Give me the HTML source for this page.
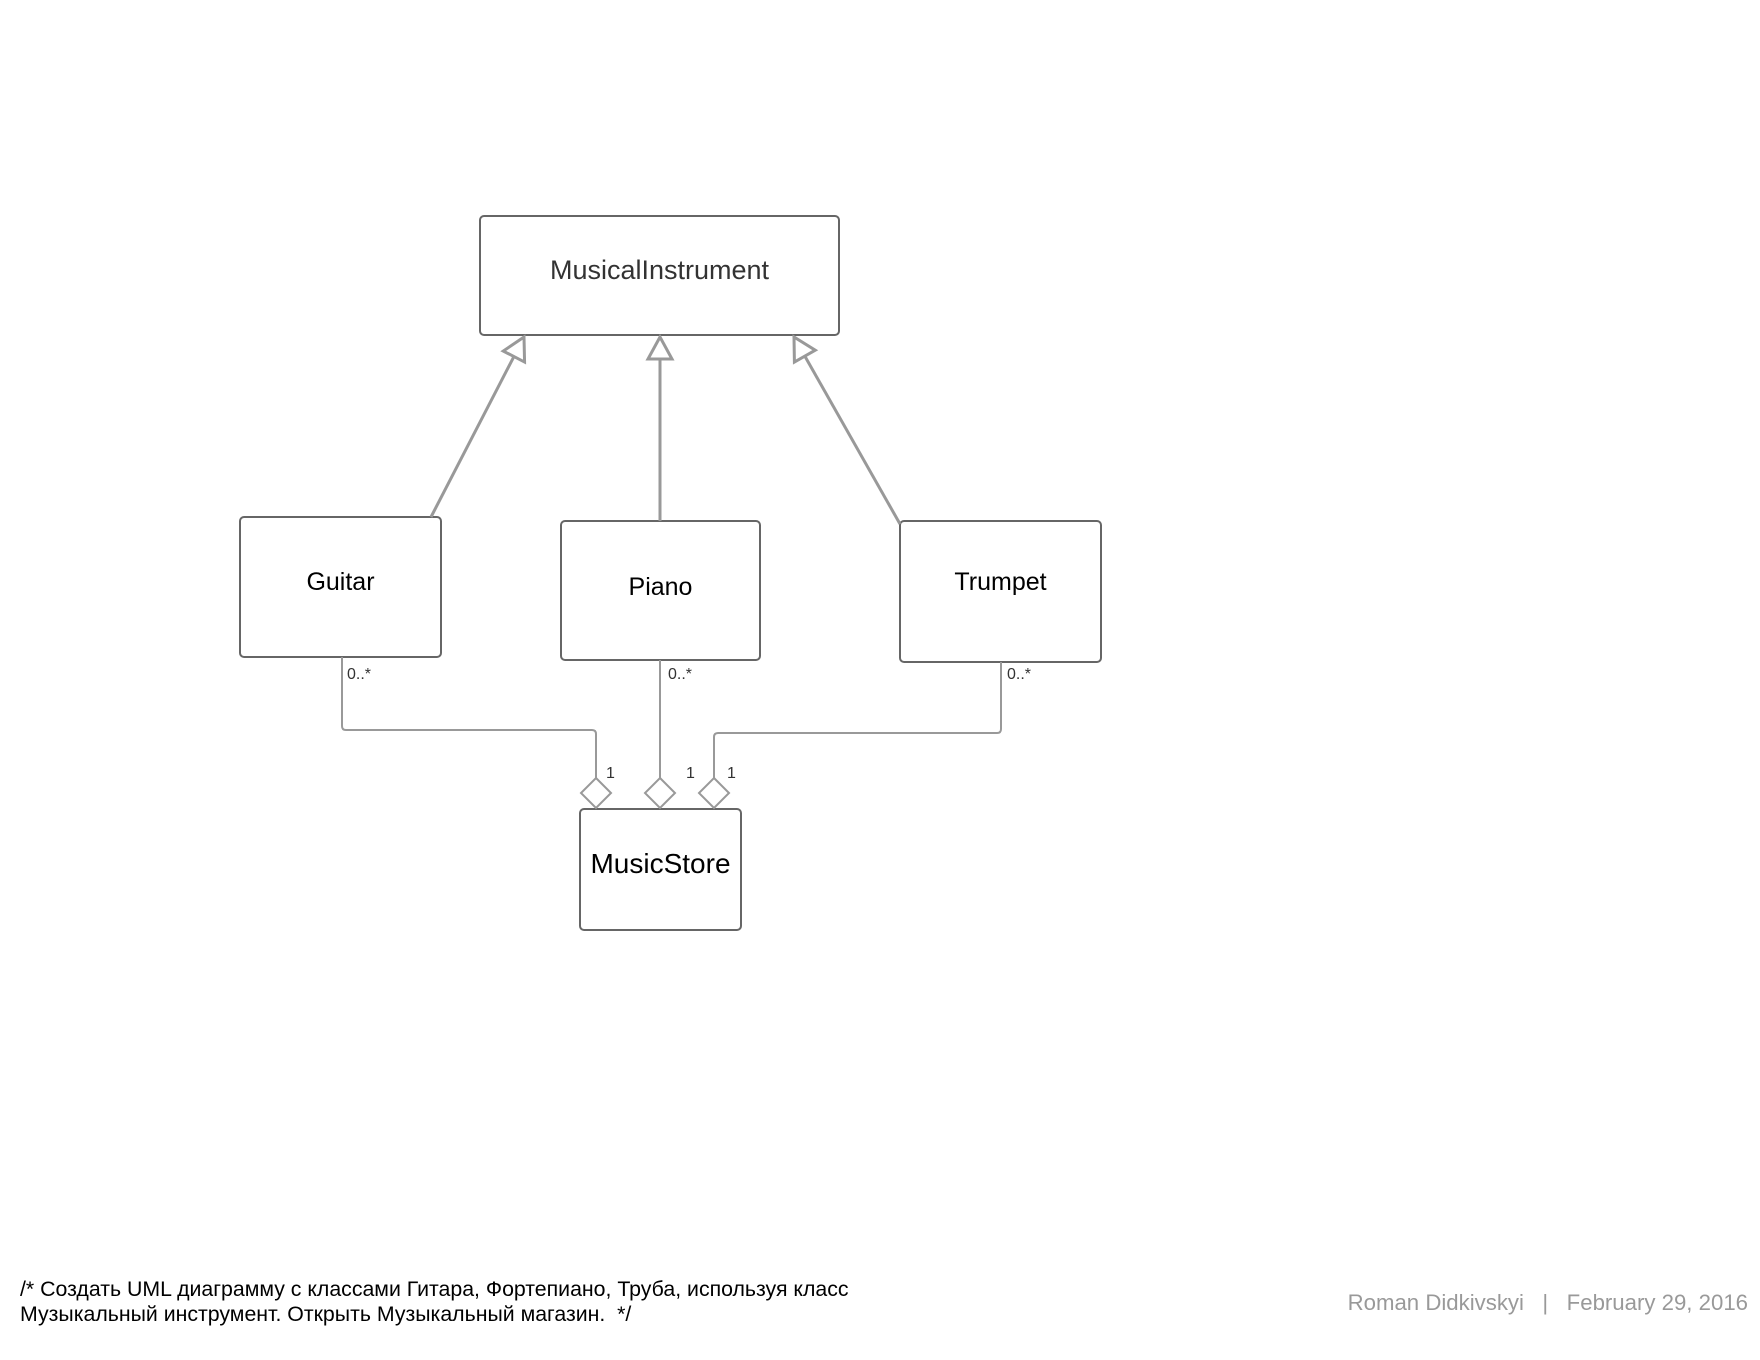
<!DOCTYPE html>
<html><head><meta charset="utf-8"><style>
html,body{margin:0;padding:0;background:#fff;}
body{width:1760px;height:1360px;position:relative;overflow:hidden;font-family:"Liberation Sans",sans-serif;}
.t{position:absolute;white-space:nowrap;}
</style></head><body>
<svg width="1760" height="1360" style="position:absolute;left:0;top:0" xmlns="http://www.w3.org/2000/svg">
<defs>
<marker id="tri" markerUnits="userSpaceOnUse" markerWidth="40" markerHeight="40" refX="0" refY="0" viewBox="-30 -20 40 40" orient="auto">
<path d="M0,0 L-22,-12 L-22,12 Z" fill="#fff" stroke="#999" stroke-width="3"/>
</marker>
</defs>
<g fill="#fff" stroke="#666" stroke-width="2">
<rect x="480" y="216" width="359" height="119" rx="4"/>
<rect x="240" y="517" width="201" height="140" rx="4"/>
<rect x="561" y="521" width="199" height="139" rx="4"/>
<rect x="900" y="521" width="201" height="141" rx="4"/>
<rect x="580" y="809" width="161" height="121" rx="4"/>
</g>
<g stroke="#999" stroke-width="3" fill="none">
<line x1="431" y1="517" x2="524" y2="337" marker-end="url(#tri)"/>
<line x1="660" y1="521" x2="660" y2="337" marker-end="url(#tri)"/>
<line x1="900" y1="524" x2="794" y2="337" marker-end="url(#tri)"/>
</g>
<g stroke="#999" stroke-width="2" fill="none">
<path d="M342,657 V726 Q342,730 346,730 H592 Q596,730 596,734 V778"/>
<path d="M660,660 V778"/>
<path d="M1001,662 V729 Q1001,733 997,733 H718 Q714,733 714,737 V778"/>
</g>
<g fill="#fff" stroke="#999" stroke-width="2">
<path d="M596,778 L611,793 L596,808 L581,793 Z"/>
<path d="M660,778 L675,793 L660,808 L645,793 Z"/>
<path d="M714,778 L729,793 L714,808 L699,793 Z"/>
</g>
</svg>
<div class="t" style="left:480px;width:359px;text-align:center;top:255px;font-size:27px;color:#333;">MusicalInstrument</div>
<div class="t" style="left:240px;width:201px;text-align:center;top:568px;font-size:25px;">Guitar</div>
<div class="t" style="left:561px;width:199px;text-align:center;top:573px;font-size:25px;">Piano</div>
<div class="t" style="left:900px;width:201px;text-align:center;top:568px;font-size:25px;">Trumpet</div>
<div class="t" style="left:580px;width:161px;text-align:center;top:848px;font-size:28px;">MusicStore</div>
<div class="t" style="left:347px;top:666px;font-size:16px;color:#333;">0..*</div>
<div class="t" style="left:668px;top:666px;font-size:16px;color:#333;">0..*</div>
<div class="t" style="left:1007px;top:666px;font-size:16px;color:#333;">0..*</div>
<div class="t" style="left:606px;top:765px;font-size:16px;color:#333;">1</div>
<div class="t" style="left:686px;top:765px;font-size:16px;color:#333;">1</div>
<div class="t" style="left:727px;top:765px;font-size:16px;color:#333;">1</div>
<div class="t" style="left:20px;top:1277px;font-size:21.3px;line-height:25px;color:#000;">/* Создать UML диаграмму с классами Гитара, Фортепиано, Труба, используя класс<br>Музыкальный инструмент. Открыть Музыкальный магазин.&nbsp; */</div>
<div class="t" style="right:12px;top:1290px;font-size:22.2px;color:#999;">Roman Didkivskyi &nbsp; | &nbsp; February 29, 2016</div>
</body></html>
